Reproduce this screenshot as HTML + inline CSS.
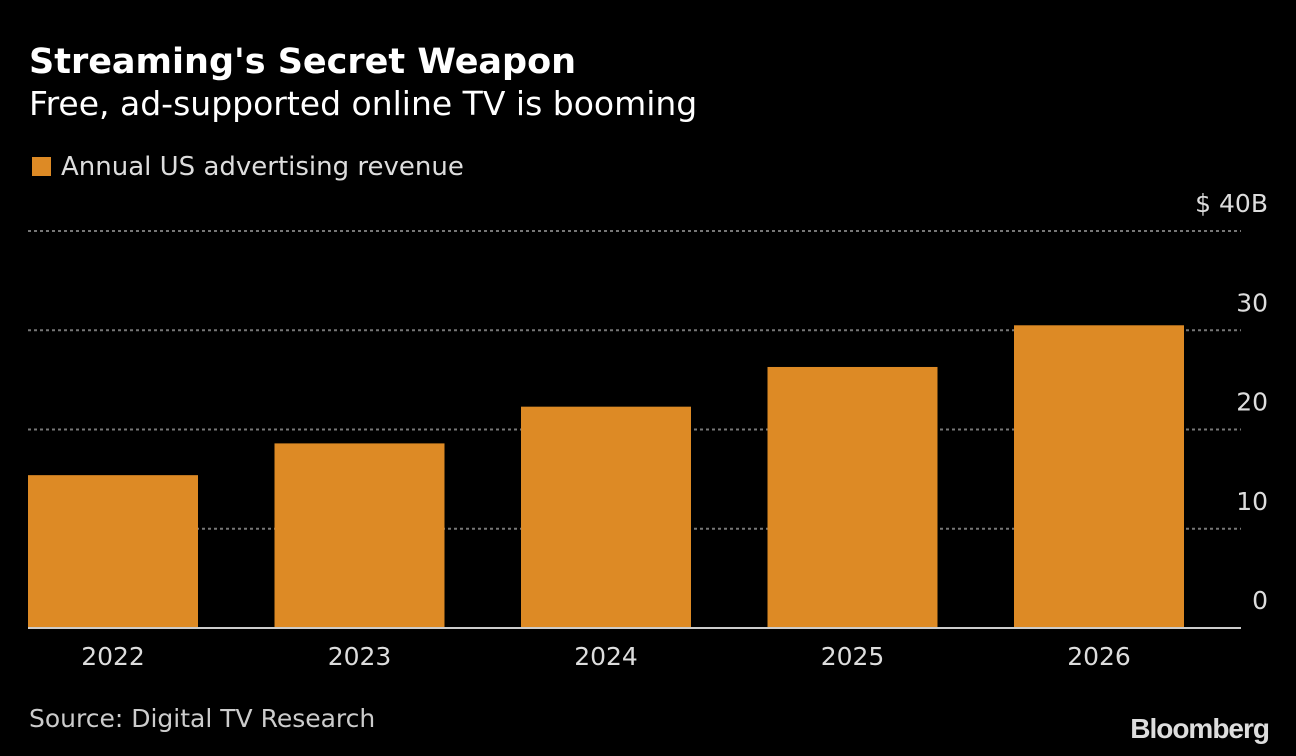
<!DOCTYPE html>
<html><head><meta charset="utf-8"><style>
body{margin:0;background:#000;width:1296px;height:756px;overflow:hidden;font-family:"DejaVu Sans","Liberation Sans",sans-serif;color:#fff}
.t{position:absolute;white-space:nowrap}
</style></head><body>
<div class="t" style="left:29px;top:42px;font-size:35px;font-weight:bold;">Streaming's Secret Weapon</div>
<div class="t" style="left:29px;top:84px;font-size:33px;">Free, ad-supported online TV is booming</div>
<div class="t" style="left:32px;top:152px;font-size:26px;color:#ddd;"><span style="display:inline-block;width:19px;height:19px;background:#dd8a25;margin-right:10px;vertical-align:-1px"></span>Annual US advertising revenue</div>
<svg id="c" width="1296" height="756" style="position:absolute;left:0;top:0"></svg>
<div class="t" style="left:29px;top:704px;font-size:25px;color:#ccc;">Source: Digital TV Research</div>
<div class="t" style="right:27px;top:713px;font-size:28px;font-weight:bold;color:#ddd;letter-spacing:-1px;font-family:'Liberation Sans',sans-serif">Bloomberg</div>
<script>
const categories=["2022","2023","2024","2025","2026"];
const values=[15.4,18.6,22.3,26.3,30.5];
const ticks=[0,10,20,30,40];
const tickLabels=["0","10","20","30","$ 40B"];
const svg=document.getElementById('c');const NS="http://www.w3.org/2000/svg";
const y=v=>628-v*9.925;
const x=i=>28+i*246.5;
function mk(t,a,txt){const e=document.createElementNS(NS,t);for(const k in a)e.setAttribute(k,a[k]);if(txt!==undefined)e.textContent=txt;svg.appendChild(e);return e;}
ticks.forEach((t,i)=>{
 if(t>0){const g=mk('line',{x1:28,x2:1241,y1:y(t),y2:y(t),stroke:'#777','stroke-width':2,'stroke-dasharray':'3,3'});
 
 }
 const l=mk('text',{x:1268,y:y(t)-19,'text-anchor':'end','font-size':25,fill:'#ddd','font-family':'DejaVu Sans'},tickLabels[i]);
 
 
});
categories.forEach((c,i)=>{
 const b=mk('rect',{x:x(i),y:y(values[i]),width:170,height:628-y(values[i]),fill:'#dd8a25'});
 
 
 const l=mk('text',{x:x(i)+85,y:665,'text-anchor':'middle','font-size':25,fill:'#ddd','font-family':'DejaVu Sans'},c);
 
 
});
const ax=mk('line',{x1:28,x2:1241,y1:628,y2:628,stroke:'#ccc','stroke-width':2});


</script>
</body></html>
